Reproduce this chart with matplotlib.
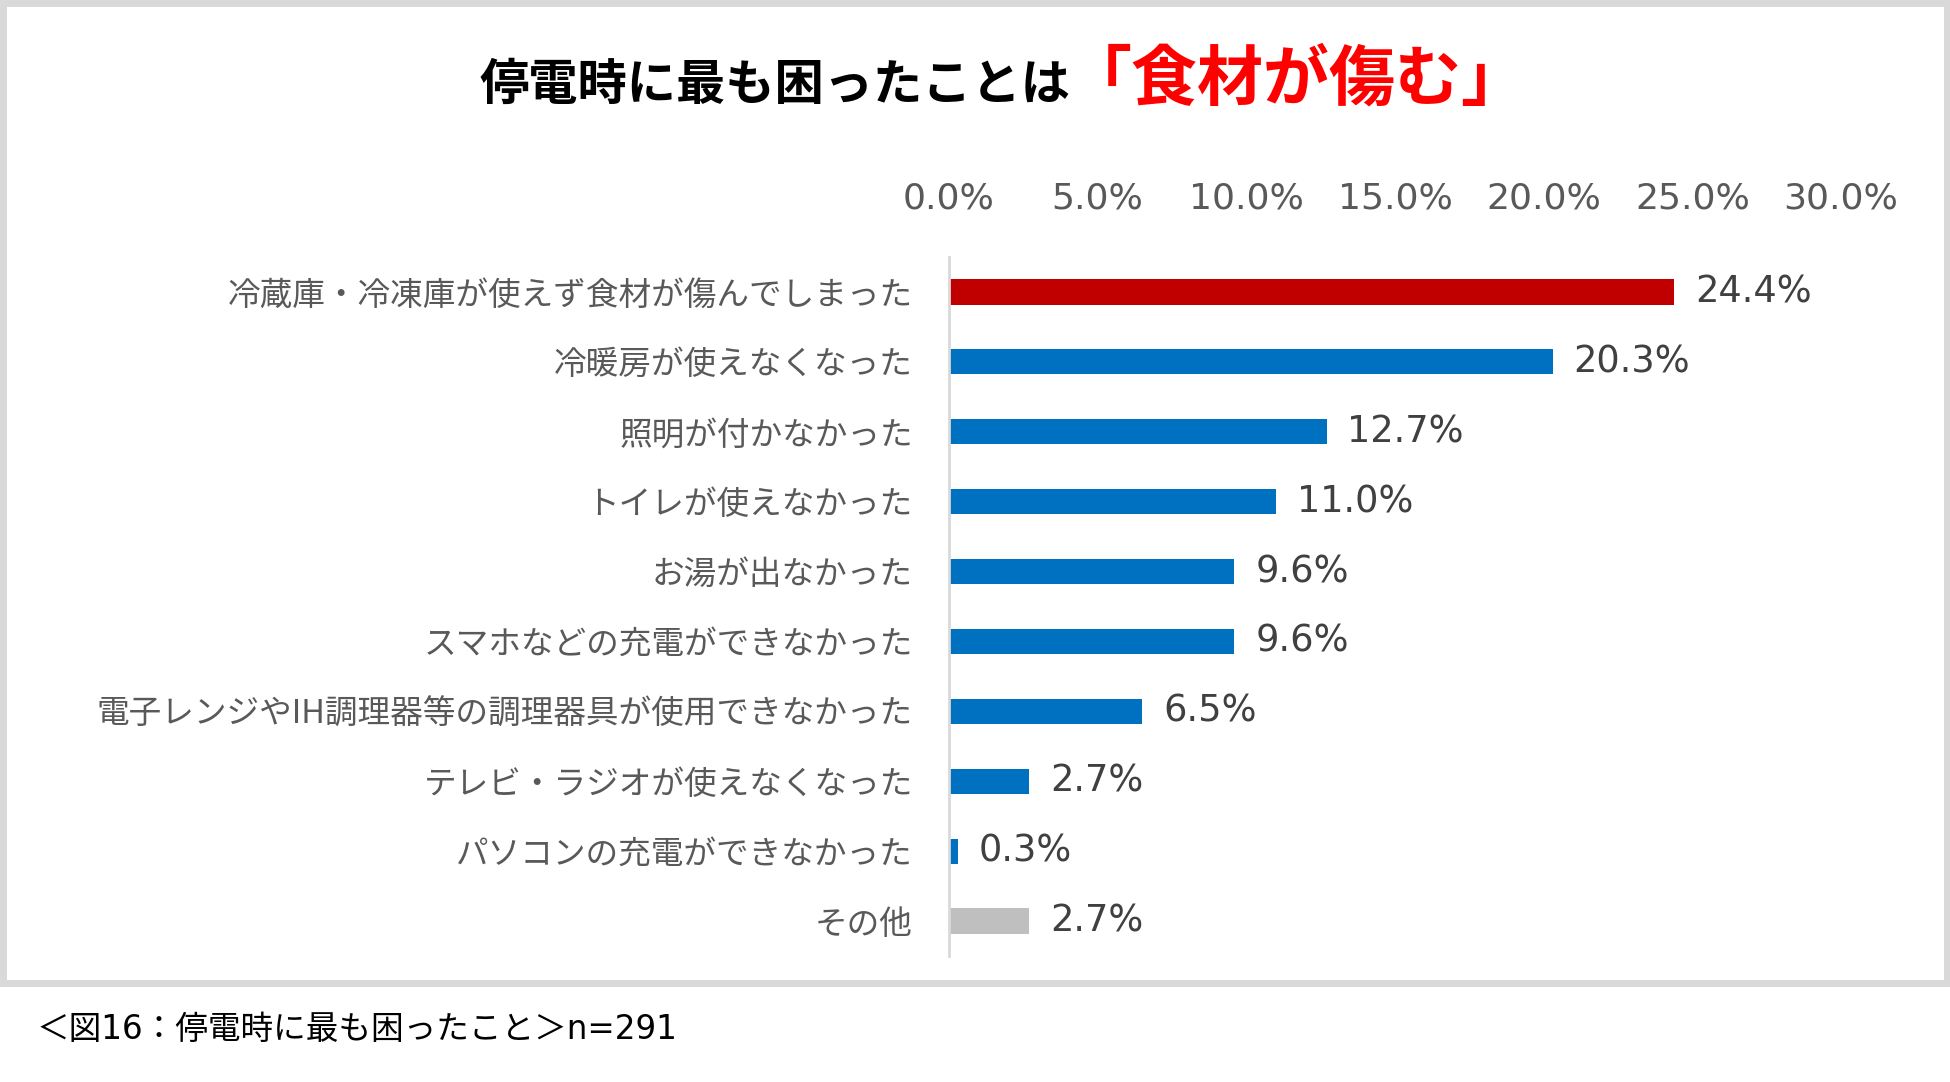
import matplotlib
matplotlib.use('Agg')
import matplotlib.pyplot as plt
from matplotlib.patches import Rectangle

plt.rcParams['font.family'] = ['Noto Sans CJK JP', 'DejaVu Sans']

categories = ['冷蔵庫・冷凍庫が使えず食材が傷んでしまった', '冷暖房が使えなくなった', '照明が付かなかった',
              'トイレが使えなかった', 'お湯が出なかった', 'スマホなどの充電ができなかった',
              '電子レンジやIH調理器等の調理器具が使用できなかった', 'テレビ・ラジオが使えなくなった',
              'パソコンの充電ができなかった', 'その他']
values = [24.4, 20.3, 12.7, 11.0, 9.6, 9.6, 6.5, 2.7, 0.3, 2.7]
tick_vals = [0, 5, 10, 15, 20, 25, 30]
tick_labels = ['0.0%', '5.0%', '10.0%', '15.0%', '20.0%', '25.0%', '30.0%']
title_black = '停電時に最も困ったことは'
title_red = '「食材が傷む」'
caption = '＜図16：停電時に最も困ったこと＞n=291'

colors = ['#C00000'] + ['#0070C0'] * 8 + ['#BFBFBF']
gray = '#595959'
num_font = ['DejaVu Sans', 'Noto Sans CJK JP']

W, H = 1950, 1082
fig = plt.figure(figsize=(W / 100, H / 100), dpi=100)

# frame around the chart area
fig.patches.append(Rectangle((3 / W, 1 - 983 / H), (W - 6) / W, 980 / H, transform=fig.transFigure,
                             fill=False, edgecolor='#D9D9D9', linewidth=5))

ax = fig.add_axes([949 / W, 1 - 956 / H, 892 / W, 699 / H])
y = list(range(len(categories)))
ax.barh(y, values, height=0.36, color=colors)
ax.set_xlim(0, 30)
ax.set_ylim(len(categories) - 0.5, -0.5)

ax.xaxis.tick_top()
ax.set_xticks(tick_vals)
ax.set_xticklabels(tick_labels, family=num_font)
ax.set_yticks(y)
ax.set_yticklabels(categories, va='bottom')
ax.tick_params(axis='x', length=0, pad=30, labelsize=26, labelcolor=gray)
ax.tick_params(axis='y', length=0, pad=26, labelsize=23.5, labelcolor=gray)
for lbl in ax.get_yticklabels():
    lbl.set_va('center_baseline')

for s in ['top', 'right', 'bottom']:
    ax.spines[s].set_visible(False)
ax.spines['left'].set_color('#D9D9D9')
ax.spines['left'].set_linewidth(2)

for yi, v in zip(y, values):
    ax.annotate('%.1f%%' % v, (v, yi), xytext=(15, 0), textcoords='offset points',
                va='center', ha='left', fontsize=26.5, color='#404040', family=num_font)

# title in two colours
fig.text(1070 / W, 1 - 85 / H, title_black, ha='right', va='center', fontsize=35.5,
         fontweight='bold', color='black')
fig.text(1066 / W, 1 - 80 / H, title_red, ha='left', va='center', fontsize=47.5,
         fontweight='bold', color='#FF0000')

fig.text(37 / W, 1 - 1030 / H, caption, ha='left', va='center', fontsize=23.5, color='black',
         family=num_font)

fig.savefig('out.png', dpi=100)
